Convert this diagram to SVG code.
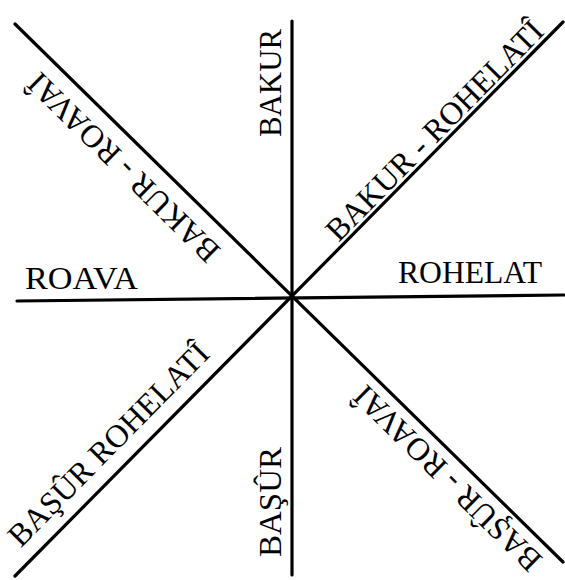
<svg xmlns="http://www.w3.org/2000/svg" width="565" height="580" viewBox="0 0 565 580">
<style>
.ln{stroke:#000;stroke-width:3.2;stroke-linecap:round;fill:none}
.t{font-family:"Liberation Serif","Times New Roman",serif;font-size:31px;fill:#000}
.h{font-size:32px}
.d{font-size:32px}
</style>
<rect width="565" height="580" fill="#fff"/>
<g id="connectors">
<line class="ln" x1="292" y1="21" x2="292" y2="575"/>
<line class="ln" x1="17" y1="301" x2="564" y2="295"/>
<line class="ln" x1="15" y1="24" x2="563" y2="562"/>
<line class="ln" x1="563" y1="22" x2="15" y2="576"/>
</g>
<g id="bakur"><text class="t" transform="translate(281,137) rotate(-90)" textLength="108" lengthAdjust="spacingAndGlyphs">BAKUR</text></g>
<g id="basur"><text class="t" transform="translate(281,557) rotate(-90)" textLength="110" lengthAdjust="spacingAndGlyphs">BAŞÛR</text></g>
<g id="roava"><text class="t h" x="25" y="289" textLength="113" lengthAdjust="spacingAndGlyphs">ROAVA</text></g>
<g id="rohelat"><text class="t h" x="398" y="283" textLength="144" lengthAdjust="spacingAndGlyphs">ROHELAT</text></g>
<g id="bakur-rohelati"><text class="t d" text-anchor="middle" transform="translate(442,138) rotate(-45.4)">BAKUR - ROHELATÎ</text></g>
<g id="bakur-roavai"><text class="t d" text-anchor="middle" transform="translate(131,160) rotate(224.6)">BAKUR - ROAVAÎ</text></g>
<g id="basur-rohelati"><text class="t d" text-anchor="middle" transform="translate(116,452) rotate(-45.4)">BAŞÛR ROHELATÎ</text></g>
<g id="basur-roavai"><text class="t d" text-anchor="middle" transform="translate(455,471) rotate(224.6)">BAŞÛR - ROAVAÎ</text></g>
</svg>
